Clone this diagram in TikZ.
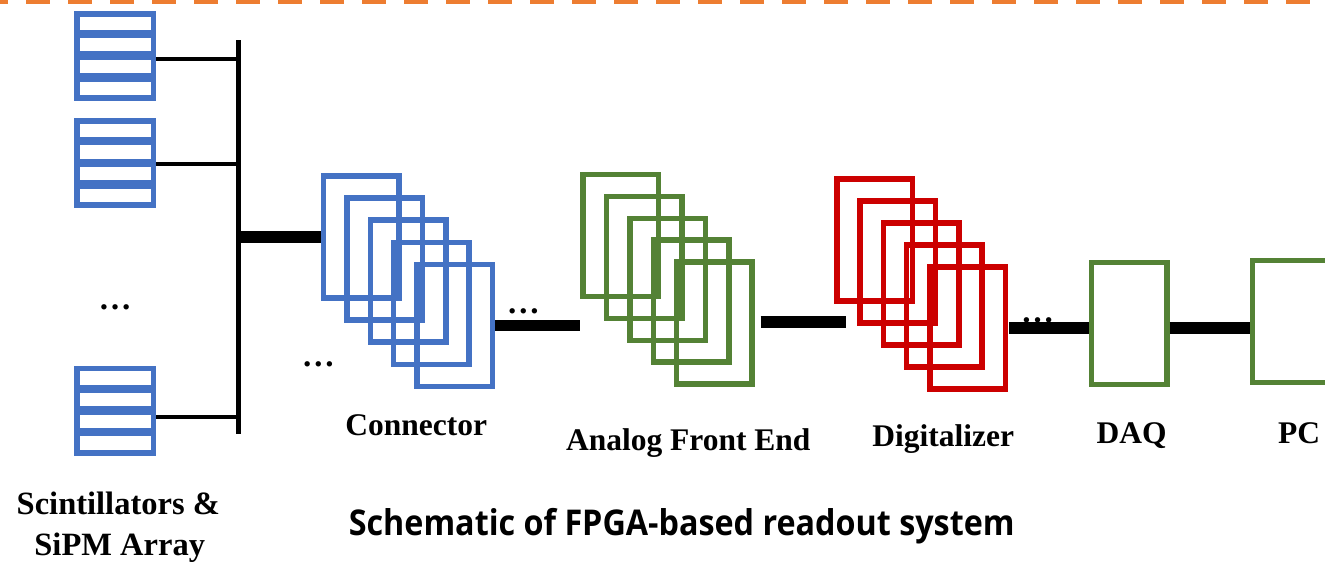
\documentclass[tikz,border=0pt]{standalone}
\usepackage{fontspec}
\setmainfont{Liberation Serif}
\newfontfamily\titlefont{Open Sans}
\usetikzlibrary{calc}
\definecolor{cblue}{HTML}{4472C4}
\definecolor{cgreen}{HTML}{548235}
\definecolor{cred}{HTML}{CC0000}
\definecolor{corange}{HTML}{ED7D31}
\tikzset{
  frame/.style={draw, rectangle, line width=5.5pt, minimum width=75.5pt, minimum height=122pt, inner sep=0pt},
  sipm/.style={rectangle, fill=cblue, minimum width=82pt, minimum height=90pt, inner sep=0pt},
  slot/.style={fill=white},
  wire/.style={line width=3.7pt},
  bus/.style={line width=4.5pt},
  cable/.style={line width=11.5pt},
  lbl/.style={font=\fontsize{31.5}{37}\selectfont\bfseries, inner sep=0pt, anchor=base},
  slbl/.style={font=\fontsize{32.5}{37}\selectfont\bfseries, inner sep=0pt, anchor=base},
  dots/.style={font=\fontsize{33}{37}\selectfont\bfseries, inner sep=0pt, anchor=base},
  ttl/.style={font=\titlefont\fontsize{35.5}{40}\selectfont\bfseries, inner sep=0pt, anchor=base}
}
\begin{document}
\begin{tikzpicture}[x=1pt,y=-1pt]
\useasboundingbox (0,0) rectangle (1325,562);
\clip (0,0) rectangle (1325,562);
% top dashed line
\coordinate (dl) at (0,2.2);
\coordinate (dr) at (1325,2.2);
\draw[corange, line width=4.5pt, dash pattern=on 24pt off 18pt, dash phase=16pt] (dl) -- (dr);
% SiPM stacks
\node[sipm] (s1) at (115,56) {};
\node[sipm] (s2) at (115,163.3) {};
\node[sipm] (s3) at (115,410.7) {};
\foreach \s in {s1,s2,s3}{
  \foreach \k in {0,...,3}{
    \fill[slot] ($(\s.north west)+(6,{5.7+\k*21.67})$) rectangle ++(71,13.3);
  }
}
% bus
\coordinate (bt) at (238.3,40);
\coordinate (bb) at (238.3,434);
\draw[bus] (bt) -- (bb);
\draw[wire] ([yshift=-3pt]s1.east) -- ([yshift=-3pt]s1.east -| bt);
\draw[wire] ([yshift=-0.7pt]s2.east) -- ([yshift=-0.7pt]s2.east -| bt);
\draw[wire] ([yshift=-6.3pt]s3.east) -- ([yshift=-6.3pt]s3.east -| bt);
% connector frames
\foreach \i in {1,...,5}{
  \node[frame, draw=cblue] (c\i) at ({361.3+(\i-1)*23.35},{237+(\i-1)*22.1}) {};
}
% AFE frames
\foreach \i in {1,...,5}{
  \node[frame, draw=cgreen] (a\i) at ({620.8+(\i-1)*23.4},{235.5+(\i-1)*21.9}) {};
}
% digitalizer frames
\foreach \i in {1,...,5}{
  \node[frame, draw=cred] (d\i) at ({874.5+(\i-1)*23.3},{240.2+(\i-1)*22.0}) {};
}
\node[frame, draw=cgreen] (daq) at (1129.2,323.3) {};
\node[frame, draw=cgreen] (pc) at (1290.2,321.3) {};
% cables
\draw[cable] (bt |- c1.west) -- (c1.west);
\draw[cable] (c5.east) -- (c5.east -| a1.west);
\coordinate (afeout) at (760.7,322);
\coordinate (digin) at (846,322);
\draw[cable] (afeout) -- (digin);
\coordinate (digout) at ([xshift=1pt]d5.east);
\draw[cable] (digout) -- (digout -| daq.west);
\draw[cable] (daq.east |- digout) -- (pc.west |- digout);
% ellipses
\node[dots] (e1) at (115,309.7) {…};
\node[dots] (e2) at (318.3,366.3) {…};
\node[dots] (e3) at (523.3,313) {…};
\node[dots] (e4) at (1037.7,322) {…};
% labels
\node[lbl] (lcon) at (416.3,435) {Connector};
\node[lbl] (lafe) at (688.3,450.5) {Analog Front End};
\node[lbl] (ldig) at (943.3,446.5) {Digitalizer};
\node[lbl] (ldaq) at (1131.7,443.3) {DAQ};
\node[lbl] (lpc) at (1299,443.3) {PC};
\node[slbl] (lsci1) at (118.3,514.3) {Scintillators \&};
\node[slbl] (lsci2) at (119.7,555) {SiPM Array};
\node[ttl] (title) at (681.7,535) {\scalebox{0.91}[1]{Schematic of FPGA-based readout system}};
\end{tikzpicture}
\end{document}
